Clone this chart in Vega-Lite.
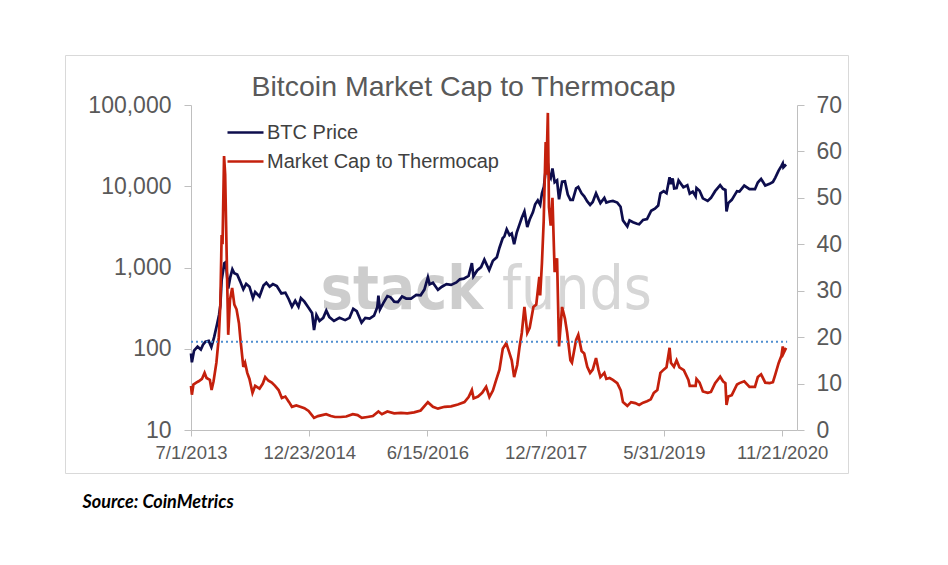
{
  "$schema": "https://vega.github.io/schema/vega-lite/v6.json",
  "width": 783,
  "height": 418,
  "autosize": "none",
  "padding": {"left": 65, "top": 55, "right": 100, "bottom": 92},
  "title": {
    "text": "Bitcoin Market Cap to Thermocap",
    "offset": -69,
    "baseline": "alphabetic",
    "anchor": "middle",
    "frame": "group",
    "dx": 7,
    "font": "Liberation Sans",
    "fontSize": 28.5,
    "fontWeight": "normal",
    "color": "#595959"
  },
  "datasets": {
    "btc": [
      {"date": "2013-07-01", "price": 88}, {"date": "2013-07-05", "price": 68}, {"date": "2013-07-15", "price": 95},
      {"date": "2013-07-31", "price": 106}, {"date": "2013-08-15", "price": 98}, {"date": "2013-08-25", "price": 112},
      {"date": "2013-09-05", "price": 122}, {"date": "2013-09-20", "price": 125}, {"date": "2013-10-02", "price": 105},
      {"date": "2013-10-15", "price": 140}, {"date": "2013-10-28", "price": 200}, {"date": "2013-11-06", "price": 260},
      {"date": "2013-11-12", "price": 340}, {"date": "2013-11-18", "price": 700}, {"date": "2013-11-22", "price": 820},
      {"date": "2013-11-30", "price": 1130}, {"date": "2013-12-04", "price": 1150}, {"date": "2013-12-10", "price": 950},
      {"date": "2013-12-18", "price": 550}, {"date": "2013-12-27", "price": 750}, {"date": "2014-01-06", "price": 950},
      {"date": "2014-01-15", "price": 850}, {"date": "2014-01-28", "price": 820}, {"date": "2014-02-10", "price": 680},
      {"date": "2014-02-25", "price": 540}, {"date": "2014-03-10", "price": 630}, {"date": "2014-03-25", "price": 580},
      {"date": "2014-04-10", "price": 420}, {"date": "2014-04-20", "price": 500}, {"date": "2014-05-10", "price": 440},
      {"date": "2014-05-28", "price": 600}, {"date": "2014-06-10", "price": 650}, {"date": "2014-06-25", "price": 580},
      {"date": "2014-07-10", "price": 625}, {"date": "2014-07-28", "price": 590}, {"date": "2014-08-18", "price": 480},
      {"date": "2014-09-05", "price": 490}, {"date": "2014-09-20", "price": 410}, {"date": "2014-10-05", "price": 330},
      {"date": "2014-10-20", "price": 390}, {"date": "2014-11-04", "price": 330}, {"date": "2014-11-15", "price": 420},
      {"date": "2014-12-01", "price": 380}, {"date": "2014-12-20", "price": 320}, {"date": "2015-01-05", "price": 275},
      {"date": "2015-01-14", "price": 170}, {"date": "2015-01-25", "price": 260}, {"date": "2015-02-08", "price": 220},
      {"date": "2015-02-25", "price": 240}, {"date": "2015-03-11", "price": 295}, {"date": "2015-03-25", "price": 245},
      {"date": "2015-04-15", "price": 220}, {"date": "2015-05-10", "price": 240}, {"date": "2015-06-05", "price": 225},
      {"date": "2015-06-25", "price": 240}, {"date": "2015-07-12", "price": 310}, {"date": "2015-07-28", "price": 290},
      {"date": "2015-08-19", "price": 210}, {"date": "2015-09-05", "price": 240}, {"date": "2015-09-25", "price": 235},
      {"date": "2015-10-15", "price": 255}, {"date": "2015-10-30", "price": 325}, {"date": "2015-11-04", "price": 450},
      {"date": "2015-11-11", "price": 305}, {"date": "2015-11-25", "price": 360}, {"date": "2015-12-15", "price": 445},
      {"date": "2015-12-30", "price": 430}, {"date": "2016-01-15", "price": 380}, {"date": "2016-02-01", "price": 375},
      {"date": "2016-02-20", "price": 440}, {"date": "2016-03-10", "price": 415}, {"date": "2016-04-01", "price": 415},
      {"date": "2016-04-25", "price": 460}, {"date": "2016-05-15", "price": 455}, {"date": "2016-06-01", "price": 535},
      {"date": "2016-06-17", "price": 760}, {"date": "2016-06-25", "price": 620}, {"date": "2016-07-10", "price": 650},
      {"date": "2016-08-02", "price": 530}, {"date": "2016-08-20", "price": 580}, {"date": "2016-09-10", "price": 625},
      {"date": "2016-10-01", "price": 610}, {"date": "2016-10-25", "price": 655}, {"date": "2016-11-10", "price": 715},
      {"date": "2016-11-28", "price": 730}, {"date": "2016-12-20", "price": 790}, {"date": "2017-01-04", "price": 1130},
      {"date": "2017-01-11", "price": 780}, {"date": "2017-01-28", "price": 920}, {"date": "2017-02-15", "price": 1010},
      {"date": "2017-03-02", "price": 1250}, {"date": "2017-03-24", "price": 930}, {"date": "2017-04-10", "price": 1210},
      {"date": "2017-04-28", "price": 1340}, {"date": "2017-05-10", "price": 1750}, {"date": "2017-05-25", "price": 2300},
      {"date": "2017-06-01", "price": 2400}, {"date": "2017-06-12", "price": 2950}, {"date": "2017-06-25", "price": 2500},
      {"date": "2017-07-05", "price": 2620}, {"date": "2017-07-16", "price": 1930}, {"date": "2017-07-28", "price": 2700},
      {"date": "2017-08-10", "price": 3420}, {"date": "2017-08-20", "price": 4100}, {"date": "2017-09-01", "price": 4900},
      {"date": "2017-09-14", "price": 3150}, {"date": "2017-09-25", "price": 3900}, {"date": "2017-10-10", "price": 4800},
      {"date": "2017-10-20", "price": 6000}, {"date": "2017-11-01", "price": 6700}, {"date": "2017-11-12", "price": 5900},
      {"date": "2017-11-20", "price": 8200}, {"date": "2017-11-29", "price": 9900}, {"date": "2017-12-07", "price": 16000},
      {"date": "2017-12-10", "price": 14500}, {"date": "2017-12-17", "price": 19100}, {"date": "2017-12-22", "price": 13800},
      {"date": "2017-12-30", "price": 12600}, {"date": "2018-01-07", "price": 16500}, {"date": "2018-01-17", "price": 11200},
      {"date": "2018-01-28", "price": 11800}, {"date": "2018-02-06", "price": 6900}, {"date": "2018-02-20", "price": 11400},
      {"date": "2018-03-05", "price": 11500}, {"date": "2018-03-18", "price": 7900}, {"date": "2018-03-30", "price": 6800},
      {"date": "2018-04-10", "price": 6800}, {"date": "2018-04-25", "price": 9400}, {"date": "2018-05-05", "price": 9800},
      {"date": "2018-05-20", "price": 8200}, {"date": "2018-06-01", "price": 7500}, {"date": "2018-06-15", "price": 6500},
      {"date": "2018-06-28", "price": 5900}, {"date": "2018-07-10", "price": 6400}, {"date": "2018-07-25", "price": 8200},
      {"date": "2018-08-05", "price": 7000}, {"date": "2018-08-14", "price": 6200}, {"date": "2018-09-01", "price": 7200},
      {"date": "2018-09-10", "price": 6300}, {"date": "2018-09-25", "price": 6500}, {"date": "2018-10-10", "price": 6600},
      {"date": "2018-10-30", "price": 6300}, {"date": "2018-11-14", "price": 5600}, {"date": "2018-11-25", "price": 3800},
      {"date": "2018-12-15", "price": 3200}, {"date": "2018-12-25", "price": 3800}, {"date": "2019-01-10", "price": 3600},
      {"date": "2019-01-28", "price": 3450}, {"date": "2019-02-07", "price": 3400}, {"date": "2019-02-25", "price": 3850},
      {"date": "2019-03-15", "price": 3950}, {"date": "2019-04-03", "price": 5000}, {"date": "2019-04-20", "price": 5300},
      {"date": "2019-05-05", "price": 5800}, {"date": "2019-05-15", "price": 8200}, {"date": "2019-05-30", "price": 8700},
      {"date": "2019-06-12", "price": 8200}, {"date": "2019-06-26", "price": 12900}, {"date": "2019-07-02", "price": 10600},
      {"date": "2019-07-10", "price": 12500}, {"date": "2019-07-17", "price": 9400}, {"date": "2019-07-28", "price": 9500},
      {"date": "2019-08-06", "price": 11800}, {"date": "2019-08-28", "price": 9700}, {"date": "2019-09-15", "price": 10300},
      {"date": "2019-09-26", "price": 8100}, {"date": "2019-10-10", "price": 8600}, {"date": "2019-10-23", "price": 7500},
      {"date": "2019-10-27", "price": 9500}, {"date": "2019-11-10", "price": 8800}, {"date": "2019-11-25", "price": 7100},
      {"date": "2019-12-17", "price": 6600}, {"date": "2020-01-01", "price": 7200}, {"date": "2020-01-20", "price": 8700},
      {"date": "2020-02-12", "price": 10300}, {"date": "2020-02-25", "price": 9300}, {"date": "2020-03-07", "price": 9000},
      {"date": "2020-03-12", "price": 4900}, {"date": "2020-03-20", "price": 6200}, {"date": "2020-04-05", "price": 6800},
      {"date": "2020-04-29", "price": 8700}, {"date": "2020-05-10", "price": 8600}, {"date": "2020-06-01", "price": 10200},
      {"date": "2020-06-25", "price": 9200}, {"date": "2020-07-20", "price": 9200}, {"date": "2020-08-02", "price": 11100},
      {"date": "2020-08-17", "price": 12300}, {"date": "2020-09-05", "price": 10200}, {"date": "2020-09-25", "price": 10700},
      {"date": "2020-10-10", "price": 11300}, {"date": "2020-10-21", "price": 12800}, {"date": "2020-11-05", "price": 15600},
      {"date": "2020-11-18", "price": 17800}, {"date": "2020-11-24", "price": 19100}, {"date": "2020-11-27", "price": 17100},
      {"date": "2020-12-09", "price": 18500}
    ],
    "ratio": [
      {"date": "2013-07-01", "ratio": 9.5}, {"date": "2013-07-05", "ratio": 7.6}, {"date": "2013-07-12", "ratio": 9.8},
      {"date": "2013-07-25", "ratio": 10.2}, {"date": "2013-08-05", "ratio": 10.5}, {"date": "2013-08-20", "ratio": 11.0},
      {"date": "2013-09-01", "ratio": 12.3}, {"date": "2013-09-10", "ratio": 11.2}, {"date": "2013-09-25", "ratio": 10.8},
      {"date": "2013-10-03", "ratio": 8.6}, {"date": "2013-10-12", "ratio": 10.5}, {"date": "2013-10-25", "ratio": 14.5},
      {"date": "2013-11-05", "ratio": 20}, {"date": "2013-11-12", "ratio": 27}, {"date": "2013-11-18", "ratio": 42},
      {"date": "2013-11-22", "ratio": 40}, {"date": "2013-11-29", "ratio": 59}, {"date": "2013-12-04", "ratio": 55},
      {"date": "2013-12-10", "ratio": 40}, {"date": "2013-12-18", "ratio": 20.5}, {"date": "2013-12-26", "ratio": 28},
      {"date": "2014-01-05", "ratio": 30.6}, {"date": "2014-01-15", "ratio": 27}, {"date": "2014-01-25", "ratio": 26},
      {"date": "2014-02-05", "ratio": 23}, {"date": "2014-02-12", "ratio": 19.4}, {"date": "2014-02-25", "ratio": 13.6},
      {"date": "2014-03-05", "ratio": 14.5}, {"date": "2014-03-15", "ratio": 12.3}, {"date": "2014-03-25", "ratio": 11},
      {"date": "2014-04-08", "ratio": 8}, {"date": "2014-04-20", "ratio": 9.5}, {"date": "2014-05-10", "ratio": 8.9},
      {"date": "2014-05-25", "ratio": 10}, {"date": "2014-06-05", "ratio": 11.4}, {"date": "2014-06-20", "ratio": 10.6},
      {"date": "2014-07-05", "ratio": 10.2}, {"date": "2014-07-20", "ratio": 9.5}, {"date": "2014-08-05", "ratio": 8.6},
      {"date": "2014-08-20", "ratio": 6.9}, {"date": "2014-09-05", "ratio": 7.2}, {"date": "2014-09-22", "ratio": 6.0},
      {"date": "2014-10-05", "ratio": 5.0}, {"date": "2014-10-25", "ratio": 5.3}, {"date": "2014-11-12", "ratio": 5.0},
      {"date": "2014-12-01", "ratio": 4.7}, {"date": "2014-12-20", "ratio": 4.1}, {"date": "2015-01-14", "ratio": 2.6},
      {"date": "2015-02-01", "ratio": 3.0}, {"date": "2015-02-20", "ratio": 3.2}, {"date": "2015-03-10", "ratio": 3.4},
      {"date": "2015-04-01", "ratio": 3.0}, {"date": "2015-04-20", "ratio": 2.8}, {"date": "2015-05-15", "ratio": 2.8},
      {"date": "2015-06-10", "ratio": 2.9}, {"date": "2015-07-10", "ratio": 3.4}, {"date": "2015-08-01", "ratio": 3.2},
      {"date": "2015-08-20", "ratio": 2.6}, {"date": "2015-09-15", "ratio": 2.8}, {"date": "2015-10-10", "ratio": 3.0},
      {"date": "2015-11-04", "ratio": 4.0}, {"date": "2015-11-20", "ratio": 3.4}, {"date": "2015-12-15", "ratio": 4.0},
      {"date": "2016-01-15", "ratio": 3.6}, {"date": "2016-02-15", "ratio": 3.7}, {"date": "2016-03-15", "ratio": 3.6},
      {"date": "2016-04-15", "ratio": 3.8}, {"date": "2016-05-15", "ratio": 4.2}, {"date": "2016-06-17", "ratio": 6.0},
      {"date": "2016-07-10", "ratio": 5.0}, {"date": "2016-08-02", "ratio": 4.6}, {"date": "2016-09-01", "ratio": 5.0},
      {"date": "2016-10-01", "ratio": 5.1}, {"date": "2016-11-01", "ratio": 5.5}, {"date": "2016-12-01", "ratio": 6.0},
      {"date": "2016-12-20", "ratio": 7.1}, {"date": "2017-01-04", "ratio": 8.6}, {"date": "2017-01-12", "ratio": 6.8},
      {"date": "2017-02-01", "ratio": 7.2}, {"date": "2017-02-20", "ratio": 8.0}, {"date": "2017-03-10", "ratio": 9.3},
      {"date": "2017-03-25", "ratio": 7.1}, {"date": "2017-04-10", "ratio": 8.5}, {"date": "2017-04-25", "ratio": 10.8},
      {"date": "2017-05-10", "ratio": 13}, {"date": "2017-05-25", "ratio": 17.5}, {"date": "2017-06-10", "ratio": 18.7},
      {"date": "2017-06-25", "ratio": 16.5}, {"date": "2017-07-05", "ratio": 15}, {"date": "2017-07-16", "ratio": 11.4},
      {"date": "2017-07-30", "ratio": 14}, {"date": "2017-08-10", "ratio": 18}, {"date": "2017-08-20", "ratio": 20.9},
      {"date": "2017-09-01", "ratio": 26.5}, {"date": "2017-09-14", "ratio": 20.9}, {"date": "2017-09-25", "ratio": 22},
      {"date": "2017-10-12", "ratio": 26.5}, {"date": "2017-10-25", "ratio": 27}, {"date": "2017-11-08", "ratio": 33},
      {"date": "2017-11-12", "ratio": 29}, {"date": "2017-11-20", "ratio": 36}, {"date": "2017-11-28", "ratio": 45},
      {"date": "2017-12-07", "ratio": 62}, {"date": "2017-12-10", "ratio": 55}, {"date": "2017-12-17", "ratio": 68.3},
      {"date": "2017-12-22", "ratio": 48}, {"date": "2017-12-30", "ratio": 44}, {"date": "2018-01-07", "ratio": 50},
      {"date": "2018-01-17", "ratio": 34}, {"date": "2018-01-28", "ratio": 37}, {"date": "2018-02-06", "ratio": 18},
      {"date": "2018-02-20", "ratio": 26.5}, {"date": "2018-03-05", "ratio": 24}, {"date": "2018-03-15", "ratio": 21},
      {"date": "2018-03-30", "ratio": 15}, {"date": "2018-04-06", "ratio": 14.5}, {"date": "2018-04-25", "ratio": 19.4},
      {"date": "2018-05-05", "ratio": 20.5}, {"date": "2018-05-20", "ratio": 17}, {"date": "2018-06-01", "ratio": 16.5},
      {"date": "2018-06-15", "ratio": 13.6}, {"date": "2018-06-28", "ratio": 12.3}, {"date": "2018-07-10", "ratio": 13},
      {"date": "2018-07-25", "ratio": 15.5}, {"date": "2018-08-05", "ratio": 13}, {"date": "2018-08-14", "ratio": 11.4},
      {"date": "2018-09-01", "ratio": 12.3}, {"date": "2018-09-10", "ratio": 11}, {"date": "2018-09-25", "ratio": 11.2},
      {"date": "2018-10-10", "ratio": 10.8}, {"date": "2018-10-30", "ratio": 10.1}, {"date": "2018-11-15", "ratio": 8.5},
      {"date": "2018-11-25", "ratio": 6.0}, {"date": "2018-12-15", "ratio": 5.2}, {"date": "2019-01-01", "ratio": 6.0},
      {"date": "2019-01-20", "ratio": 5.8}, {"date": "2019-02-07", "ratio": 5.4}, {"date": "2019-02-25", "ratio": 5.9},
      {"date": "2019-03-15", "ratio": 6.2}, {"date": "2019-04-01", "ratio": 6.6}, {"date": "2019-04-15", "ratio": 8.0},
      {"date": "2019-05-01", "ratio": 8.6}, {"date": "2019-05-15", "ratio": 12.3}, {"date": "2019-05-30", "ratio": 13},
      {"date": "2019-06-12", "ratio": 13.5}, {"date": "2019-06-26", "ratio": 17.7}, {"date": "2019-07-02", "ratio": 14.5},
      {"date": "2019-07-16", "ratio": 13.6}, {"date": "2019-07-28", "ratio": 15}, {"date": "2019-08-10", "ratio": 13.5},
      {"date": "2019-08-30", "ratio": 12.9}, {"date": "2019-09-20", "ratio": 10.8}, {"date": "2019-09-26", "ratio": 9.5},
      {"date": "2019-10-23", "ratio": 9.5}, {"date": "2019-10-27", "ratio": 11}, {"date": "2019-11-10", "ratio": 10.2},
      {"date": "2019-11-25", "ratio": 8.3}, {"date": "2019-12-17", "ratio": 8.0}, {"date": "2020-01-01", "ratio": 8.2},
      {"date": "2020-01-20", "ratio": 10.1}, {"date": "2020-02-12", "ratio": 11.5}, {"date": "2020-02-25", "ratio": 10.5},
      {"date": "2020-03-07", "ratio": 10.1}, {"date": "2020-03-12", "ratio": 5.4}, {"date": "2020-03-20", "ratio": 7.2},
      {"date": "2020-04-05", "ratio": 7.5}, {"date": "2020-04-29", "ratio": 9.8}, {"date": "2020-05-10", "ratio": 10.1},
      {"date": "2020-06-01", "ratio": 10.5}, {"date": "2020-06-25", "ratio": 9.3}, {"date": "2020-07-20", "ratio": 9.3},
      {"date": "2020-08-02", "ratio": 11.4}, {"date": "2020-08-17", "ratio": 12}, {"date": "2020-09-05", "ratio": 10.2},
      {"date": "2020-09-25", "ratio": 10.1}, {"date": "2020-10-10", "ratio": 10.3}, {"date": "2020-10-21", "ratio": 12},
      {"date": "2020-11-05", "ratio": 14.4}, {"date": "2020-11-18", "ratio": 16}, {"date": "2020-11-24", "ratio": 18},
      {"date": "2020-11-27", "ratio": 16.5}, {"date": "2020-12-09", "ratio": 17.7}
    ]
  },
  "layer": [
    {
      "data": {"values": [{"word": "stack"}]},
      "mark": {"type": "text", "align": "right", "baseline": "alphabetic", "dx": -9, "font": "'Liberation Sans Narrow', 'DejaVu Sans Condensed', Roboto, sans-serif", "fontWeight": "bold", "fontSize": 60, "color": "#CDCDCD"},
      "encoding": {
        "x": {
          "datum": {"year": 2017, "month": 4, "date": 6, "utc": true}, "type": "temporal",
          "title": "Source: CoinMetrics",
          "scale": {"type": "utc", "domain": [{"year": 2013, "month": 7, "date": 1, "utc": true}, {"year": 2021, "month": 1, "date": 28, "utc": true}], "range": [126, 732], "nice": false},
          "axis": {
            "orient": "bottom", "offset": -43,
            "values": [
              {"year": 2013, "month": 7, "date": 1, "utc": true},
              {"year": 2014, "month": 12, "date": 23, "utc": true},
              {"year": 2016, "month": 6, "date": 15, "utc": true},
              {"year": 2017, "month": 12, "date": 7, "utc": true},
              {"year": 2019, "month": 5, "date": 31, "utc": true},
              {"year": 2020, "month": 11, "date": 21, "utc": true}
            ],
            "format": "%-m/%-d/%Y",
            "labelFont": "Liberation Sans", "labelFontSize": 18.5, "labelColor": "#595959",
            "labelOverlap": false, "labelFlush": false, "labelPadding": 7,
            "domainColor": "#BFBFBF", "tickColor": "#BFBFBF", "tickSize": 6, "grid": false,
            "title": "Source: CoinMetrics",
            "titleX": 17, "titleY": 77, "titleAlign": "left", "titleAnchor": null, "titleBaseline": "alphabetic",
            "titleFont": "Lato", "titleFontSize": 18, "titleFontStyle": "italic", "titleFontWeight": "bold", "titleColor": "#000000"
          }
        },
        "y": {"datum": 26, "type": "quantitative", "scale": {"domain": [0, 70], "range": [375, 50], "nice": false}, "axis": null},
        "text": {"field": "word"}
      }
    },
    {
      "data": {"values": [{"word": "funds"}]},
      "mark": {"type": "text", "align": "left", "baseline": "alphabetic", "dx": 10, "font": "'Liberation Sans Narrow', 'DejaVu Sans Condensed', Roboto, sans-serif", "fontWeight": 300, "fontSize": 60, "color": "#D6D6D6"},
      "encoding": {
        "x": {"datum": {"year": 2017, "month": 4, "date": 6, "utc": true}, "type": "temporal", "title": "Source: CoinMetrics"},
        "y": {"datum": 26, "type": "quantitative", "scale": {"domain": [0, 70], "range": [375, 50], "nice": false}, "axis": null},
        "text": {"field": "word"}
      }
    },
    {
      "data": {"name": "btc"},
      "mark": {"type": "line", "strokeWidth": 2.7},
      "encoding": {
        "x": {"field": "date", "type": "temporal", "title": "Source: CoinMetrics"},
        "y": {
          "field": "price", "type": "quantitative",
          "scale": {"type": "log", "domain": [10, 100000], "range": [375, 50], "nice": false},
          "axis": {
            "orient": "left", "offset": -126,
            "values": [10, 100, 1000, 10000, 100000], "format": ",",
            "labelFont": "Liberation Sans", "labelFontSize": 23, "labelColor": "#595959", "labelPadding": 13,
            "domainColor": "#BFBFBF", "tickColor": "#BFBFBF", "tickSize": 7, "grid": false, "title": null
          }
        },
        "color": {
          "datum": "BTC Price",
          "scale": {"domain": ["BTC Price", "Market Cap to Thermocap"], "range": ["#0D0D4D", "#C4200C"]},
          "legend": {
            "orient": "none", "legendX": 169, "legendY": 66, "title": null, "padding": 0,
            "symbolType": "M-1.8,0H1.8", "symbolSize": 400, "symbolStrokeWidth": 2.5, "rowPadding": 7,
            "labelFont": "Liberation Sans", "labelFontSize": 20, "labelColor": "#404040", "labelOffset": 10, "labelLimit": 400
          }
        }
      }
    },
    {
      "data": {"name": "ratio"},
      "mark": {"type": "line", "strokeWidth": 2.7},
      "encoding": {
        "x": {"field": "date", "type": "temporal", "title": "Source: CoinMetrics"},
        "y": {
          "field": "ratio", "type": "quantitative",
          "scale": {"domain": [0, 70], "range": [375, 50], "nice": false},
          "axis": {
            "orient": "right", "offset": -51,
            "values": [0, 10, 20, 30, 40, 50, 60, 70],
            "labelFont": "Liberation Sans", "labelFontSize": 23, "labelColor": "#595959", "labelPadding": 12,
            "domainColor": "#BFBFBF", "tickColor": "#BFBFBF", "tickSize": 7, "grid": false, "title": null
          }
        },
        "color": {
          "datum": "Market Cap to Thermocap",
          "scale": {"domain": ["BTC Price", "Market Cap to Thermocap"], "range": ["#0D0D4D", "#C4200C"]},
          "legend": {
            "orient": "none", "legendX": 169, "legendY": 66, "title": null, "padding": 0,
            "symbolType": "M-1.8,0H1.8", "symbolSize": 400, "symbolStrokeWidth": 2.5, "rowPadding": 7,
            "labelFont": "Liberation Sans", "labelFontSize": 20, "labelColor": "#404040", "labelOffset": 10, "labelLimit": 400
          }
        }
      }
    },
    {
      "data": {"values": [{"level": 19}]},
      "mark": {"type": "rule", "color": "#4F8FD0", "strokeWidth": 2, "strokeDash": [2, 3]},
      "encoding": {
        "x": {"datum": {"year": 2013, "month": 7, "date": 1, "utc": true}, "type": "temporal", "title": "Source: CoinMetrics"},
        "x2": {"datum": {"year": 2020, "month": 12, "date": 14, "utc": true}},
        "y": {"field": "level", "type": "quantitative", "scale": {"domain": [0, 70], "range": [375, 50], "nice": false}, "axis": null}
      }
    }
  ],
  "resolve": {"scale": {"y": "independent"}},
  "config": {
    "view": {"stroke": "#D9D9D9", "strokeWidth": 1},
    "font": "Liberation Sans"
  }
}
